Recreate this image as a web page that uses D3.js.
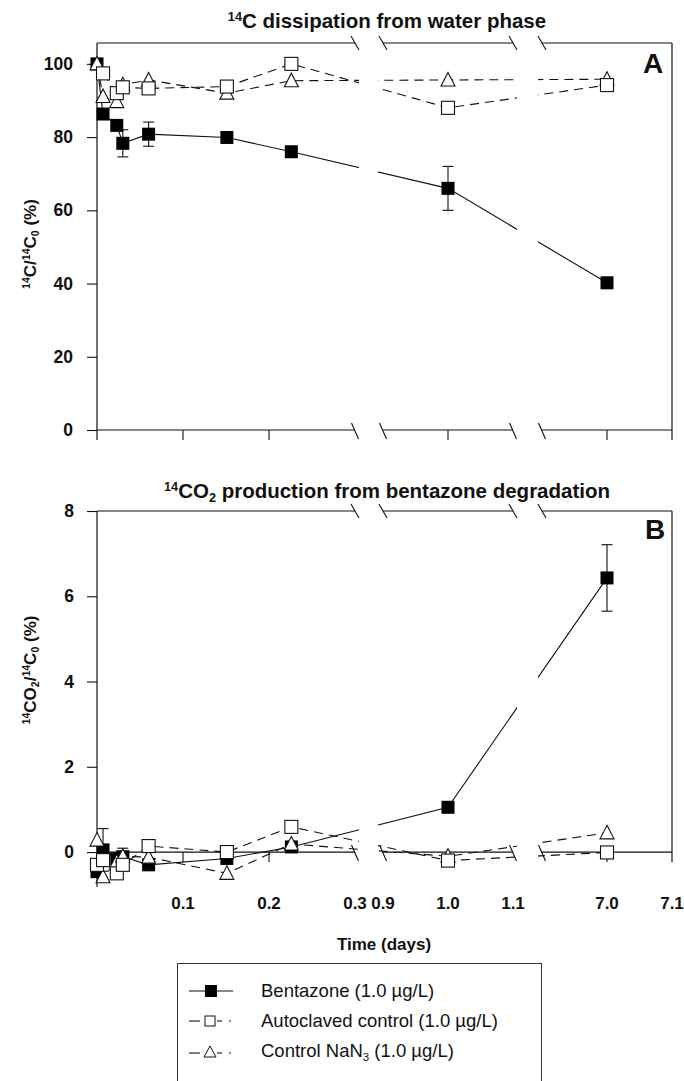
<!DOCTYPE html>
<html><head><meta charset="utf-8">
<script src="https://cdn.jsdelivr.net/npm/d3@7"></script>
<style>
body{margin:0;background:#fff}
svg{display:block}
text{font-family:"Liberation Sans",Arial,sans-serif;fill:#111}
</style>
</head><body>
<svg id="c" width="684" height="1081"></svg>
<script>
// ---------------- data ----------------
const times = [0, 0.007, 0.023, 0.03, 0.06, 0.151, 0.226, 1.0, 7.0];

// Panel A: 14C / 14C0 (%)
const bentazoneA    = [100, 86.3, 83.2, 78.3, 80.8, 79.9, 76.0, 66.0, 40.2];
const bentazoneAErr = [0, 0, 0, 3.7, 3.3, 0, 0, 6.0, 0];
const autoclavedA   = [null, 97.4, 92.0, 93.6, 93.3, 93.8, 100, 88.0, 94.2];
const nan3A         = [100, 91.1, 89.7, 94.3, 95.6, 92.0, 95.4, 95.6, 95.8];

// Panel B: 14CO2 / 14C0 (%)
const bentazoneB    = [-0.46, 0.05, -0.15, -0.11, -0.30, -0.15, 0.12, 1.05, 6.43];
const bentazoneBErr = [0, 0.5, 0, 0.2, 0, 0, 0, 0, 0.78];
const autoclavedB   = [-0.30, -0.19, -0.50, -0.30, 0.14, 0.00, 0.59, -0.20, -0.01];
const nan3B         = [0.28, -0.58, -0.23, -0.10, -0.12, -0.50, 0.19, -0.10, 0.45];

const yTicksA = [0, 20, 40, 60, 80, 100];
const yTicksB = [0, 2, 4, 6, 8];
const xSegments = [[0, 0.3], [0.9, 1.1], [6.9, 7.1]];
const xTickValues = [0.1, 0.2, 1.0, 7.0];
const xTickLabels = ["0.1", "0.2", "0.3", "0.9", "1.0", "1.1", "7.0", "7.1"];
const xLabelValues = [0.1, 0.2, 0.3, 0.9, 1.0, 1.1, 7.0, 7.1];
const legendItems = ["Bentazone (1.0 µg/L)", "Autoclaved control (1.0 µg/L)", "Control NaN"];

// ---------------- layout ----------------
const svg = d3.select("#c");
const segRanges = [[97, 355], [383, 513], [542, 672]];
const segScales = xSegments.map((d, i) => d3.scaleLinear().domain(d).range(segRanges[i]));
function x(t) {
  for (const s of segScales) if (t <= s.domain()[1] + 1e-9) return s(t);
  return segScales[2](t);
}
const left = 97, right = 672;
const ink = "#111";

function richText(sel, parts, size) {
  parts.forEach(p => {
    const ts = sel.append("tspan").text(p[0]);
    if (p[1] === "sup") ts.attr("font-size", size * 0.62).attr("baseline-shift", size * 0.36);
    if (p[1] === "sub") ts.attr("font-size", size * 0.62).attr("baseline-shift", -size * 0.2);
  });
}

const panels = [
  {id: "A", y: d3.scaleLinear().domain([0, 105.7]).range([430, 43]), axisVal: 0, yBottom: 440,
   rightBottom: 440, ticks: yTicksA, pad: 14,
   bent: bentazoneA, bentErr: bentazoneAErr, auto: autoclavedA, nan: nan3A, labels: false,
   title: [["14", "sup"], ["C dissipation from water phase"]], titleY: 28,
   ylab: [["14", "sup"], ["C/"], ["14", "sup"], ["C"], ["0", "sub"], [" (%)"]], ylabY: 244,
   letterX: 643, letterY: 73},
  {id: "B", y: d3.scaleLinear().domain([-0.82, 8]).range([887, 511]), axisVal: 0, yBottom: 887,
   rightBottom: 862, ticks: yTicksB, pad: 13,
   bent: bentazoneB, bentErr: bentazoneBErr, auto: autoclavedB, nan: nan3B, labels: true,
   title: [["14", "sup"], ["CO"], ["2", "sub"], [" production from bentazone degradation"]], titleY: 498,
   ylab: [["14", "sup"], ["CO"], ["2", "sub"], ["/"], ["14", "sup"], ["C"], ["0", "sub"], [" (%)"]], ylabY: 670,
   letterX: 645, letterY: 539}
];

const defs = svg.append("defs");

panels.forEach((P, pi) => {
  const g = svg.append("g");
  const y = P.y;
  const top = y.range()[1];
  const axisY = y(P.axisVal);

  // clip for the broken x axis (data lines)
  const cp = defs.append("clipPath").attr("id", "clip" + P.id);
  [[0, 359], [378, 517], [538, 684]].forEach(r =>
    cp.append("rect").attr("x", r[0]).attr("y", 0).attr("width", r[1] - r[0]).attr("height", 1081));

  // frame: top border and x axis with gaps
  segRanges.forEach(r => {
    g.append("line").attr("x1", r[0]).attr("x2", r[1]).attr("y1", top).attr("y2", top)
      .attr("stroke", ink).attr("stroke-width", 1.2);
    g.append("line").attr("x1", r[0]).attr("x2", r[1]).attr("y1", axisY).attr("y2", axisY)
      .attr("stroke", ink).attr("stroke-width", 1.2);
  });
  g.append("line").attr("x1", left).attr("x2", left).attr("y1", top).attr("y2", P.yBottom)
    .attr("stroke", ink).attr("stroke-width", 1.2);
  g.append("line").attr("x1", right).attr("x2", right).attr("y1", top).attr("y2", P.rightBottom)
    .attr("stroke", ink).attr("stroke-width", 1.2);

  // break marks
  [355, 383, 513, 542].forEach(bx => {
    g.append("line").attr("x1", bx - 4).attr("y1", top - 7).attr("x2", bx + 4).attr("y2", top + 7)
      .attr("stroke", ink).attr("stroke-width", 1.1);
    g.append("line").attr("x1", bx - 3.5).attr("y1", axisY - 7).attr("x2", bx + 3.5).attr("y2", axisY + 9)
      .attr("stroke", ink).attr("stroke-width", 1.1);
  });

  // x ticks
  xTickValues.forEach(t => {
    g.append("line").attr("x1", x(t)).attr("x2", x(t)).attr("y1", axisY).attr("y2", axisY + 10)
      .attr("stroke", ink).attr("stroke-width", 1.1);
  });
  if (P.labels) {
    xLabelValues.forEach((t, i) => {
      g.append("text").attr("x", x(t)).attr("y", 909).attr("text-anchor", "middle")
        .attr("font-size", 17).attr("font-weight", "bold").text(xTickLabels[i]);
    });
  }

  // y axis ticks & labels via d3 axis
  const ax = d3.axisLeft(y).tickValues(P.ticks).tickSize(10).tickPadding(P.pad).tickFormat(d3.format("d"));
  const ag = g.append("g").attr("transform", `translate(${left},0)`).call(ax);
  ag.select(".domain").remove();
  ag.selectAll(".tick line").attr("stroke", ink).attr("stroke-width", 1.1);
  ag.selectAll(".tick text").attr("font-size", 17.5).attr("font-weight", "bold")
    .attr("font-family", '"Liberation Sans",Arial,sans-serif').attr("fill", ink);

  // title
  const tt = g.append("text").attr("x", 387).attr("y", P.titleY).attr("text-anchor", "middle")
    .attr("font-size", 20.5).attr("font-weight", "bold");
  richText(tt, P.title, 20.5);

  // y label
  const yl = g.append("text").attr("transform", `translate(36,${P.ylabY}) rotate(-90)`)
    .attr("text-anchor", "middle").attr("font-size", 17).attr("font-weight", "bold");
  richText(yl, P.ylab, 17);

  // panel letter
  g.append("text").attr("x", P.letterX).attr("y", P.letterY).attr("font-size", 28)
    .attr("font-weight", "bold").text(P.id);

  // data lines
  const line = d3.line().x(d => x(d[0])).y(d => y(d[1]));
  const lg = g.append("g").attr("clip-path", `url(#clip${P.id})`);
  const series = [
    {v: P.bent, dash: null},
    {v: P.auto, dash: "9,6"},
    {v: P.nan, dash: "9,6"}
  ];
  series.forEach(s => {
    const pts = times.map((t, i) => [t, s.v[i]]).filter(d => d[1] !== null);
    lg.append("path").attr("d", line(pts)).attr("fill", "none").attr("stroke", ink)
      .attr("stroke-width", 1.1).attr("stroke-dasharray", s.dash);
  });

  // error bars (bentazone)
  times.forEach((t, i) => {
    const e = P.bentErr[i];
    if (!e) return;
    const cx = x(t), y1 = y(P.bent[i] - e), y2 = y(P.bent[i] + e);
    g.append("line").attr("x1", cx).attr("x2", cx).attr("y1", y1).attr("y2", y2).attr("stroke", ink).attr("stroke-width", 1.1);
    [y1, y2].forEach(yy => g.append("line").attr("x1", cx - 5.5).attr("x2", cx + 5.5).attr("y1", yy).attr("y2", yy)
      .attr("stroke", ink).attr("stroke-width", 1.1));
  });

  // markers: filled squares, triangles, open squares
  const S = 13;
  times.forEach((t, i) => {
    g.append("rect").attr("x", x(t) - S / 2).attr("y", y(P.bent[i]) - S / 2).attr("width", S).attr("height", S)
      .attr("fill", "#000");
  });
  times.forEach((t, i) => {
    const cx = x(t), cy = y(P.nan[i]);
    g.append("path").attr("d", `M${cx},${cy - 7.5}L${cx + 7},${cy + 6}L${cx - 7},${cy + 6}Z`)
      .attr("fill", "#fff").attr("stroke", ink).attr("stroke-width", 1.1);
  });
  times.forEach((t, i) => {
    if (P.auto[i] === null) return;
    g.append("rect").attr("x", x(t) - S / 2).attr("y", y(P.auto[i]) - S / 2).attr("width", S).attr("height", S)
      .attr("fill", "#fff").attr("stroke", ink).attr("stroke-width", 1.1);
  });
});

// x axis title
svg.append("text").attr("x", 384).attr("y", 950).attr("text-anchor", "middle")
  .attr("font-size", 17).attr("font-weight", "bold").text("Time (days)");

// legend
const lgd = svg.append("g");
lgd.append("rect").attr("x", 177.5).attr("y", 963.5).attr("width", 364).attr("height", 140)
  .attr("fill", "#fff").attr("stroke", "#333").attr("stroke-width", 1);
const rowY = [991, 1021, 1051];
lgd.append("line").attr("x1", 189).attr("x2", 233).attr("y1", rowY[0]).attr("y2", rowY[0]).attr("stroke", ink).attr("stroke-width", 1.1);
lgd.append("rect").attr("x", 205).attr("y", rowY[0] - 6).attr("width", 12).attr("height", 12).attr("fill", "#000");
[[189, 200], [217, 222], [229, 231]].forEach(s =>
  lgd.append("line").attr("x1", s[0]).attr("x2", s[1]).attr("y1", rowY[1]).attr("y2", rowY[1]).attr("stroke", ink).attr("stroke-width", 1.1));
lgd.append("rect").attr("x", 205).attr("y", rowY[1] - 5).attr("width", 10).attr("height", 10).attr("fill", "#fff").attr("stroke", ink).attr("stroke-width", 1);
[[189, 200], [217, 222], [229, 231]].forEach(s =>
  lgd.append("line").attr("x1", s[0]).attr("x2", s[1]).attr("y1", rowY[2] + 2).attr("y2", rowY[2] + 2).attr("stroke", ink).attr("stroke-width", 1.1));
lgd.append("path").attr("d", `M210,${rowY[2] - 5}L216,${rowY[2] + 6}L204,${rowY[2] + 6}Z`).attr("fill", "#fff").attr("stroke", ink).attr("stroke-width", 1);

const fsL = 18.5;
lgd.append("text").attr("x", 261).attr("y", rowY[0] + 6).attr("font-size", fsL).text(legendItems[0]);
lgd.append("text").attr("x", 261).attr("y", rowY[1] + 6).attr("font-size", fsL).text(legendItems[1]);
const t3 = lgd.append("text").attr("x", 261).attr("y", rowY[2] + 6).attr("font-size", fsL);
richText(t3, [[legendItems[2]], ["3", "sub"], [" (1.0 µg/L)"]], fsL);
</script>
</body></html>
